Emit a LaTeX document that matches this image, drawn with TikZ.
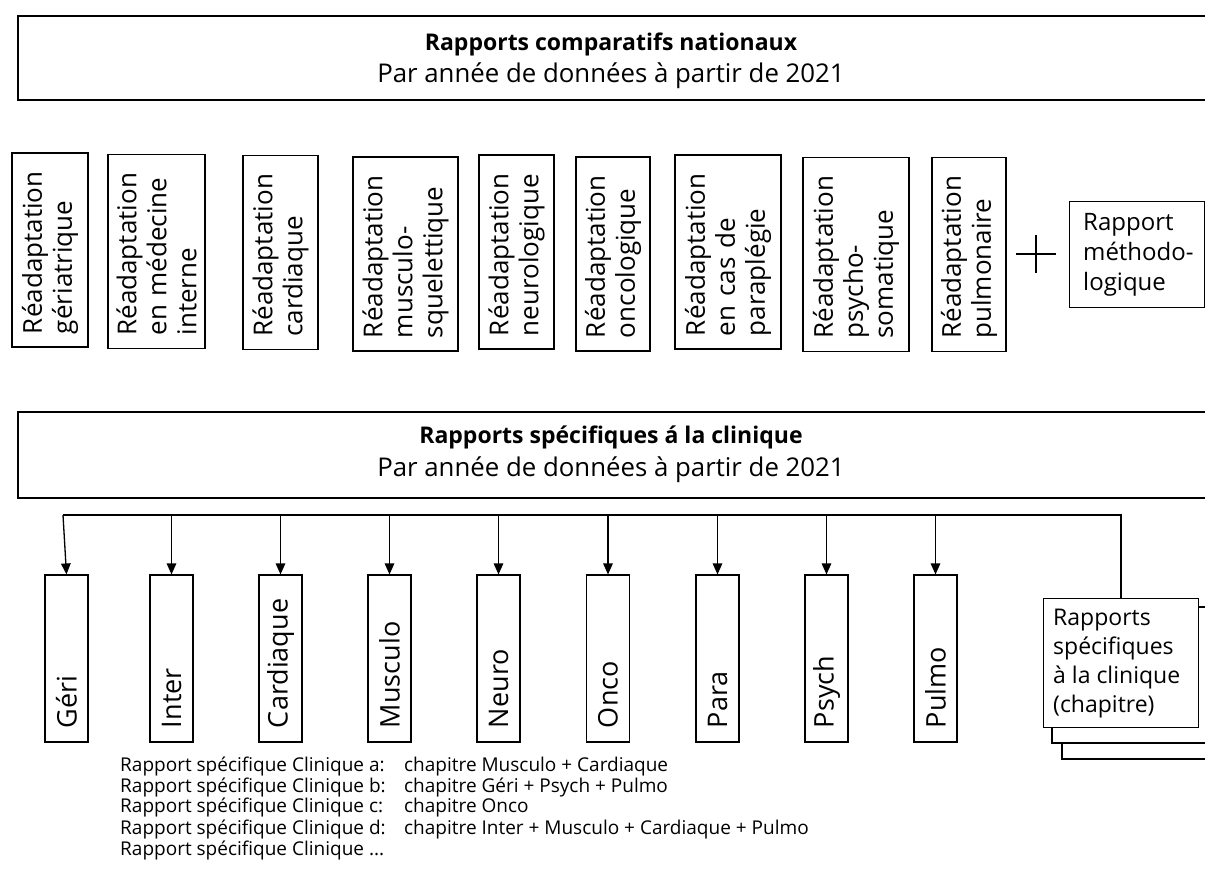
\documentclass[tikz,border=0pt]{standalone}
\usepackage{fontspec}
\setmainfont{Open Sans}
\usetikzlibrary{arrows.meta}
\tikzset{
  bigbox/.style={draw, line width=1.6pt, inner sep=0pt, anchor=north west},
  rbox/.style={draw, line width=1.1pt, rotate=90, align=left, inner xsep=13pt, inner ysep=0pt,
    text width=168pt, minimum height=#1, font=\fontsize{26}{30}\selectfont},
  cbox/.style={draw, line width=1.1pt, rotate=90, align=left, inner xsep=14pt, inner ysep=0pt,
    text width=139pt, minimum height=43pt, font=\fontsize{27}{32}\selectfont},
  titletxt/.style={inner sep=0pt, font=\bfseries\fontsize{23}{28}\selectfont},
  subtxt/.style={inner sep=0pt, font=\fontsize{25.8}{30}\selectfont},
  listtxt/.style={inner sep=0pt, anchor=base west, font=\fontsize{19}{21}\selectfont},
  conn/.style={line width=1.2pt},
  arr/.style={line width=1.3pt, -{Triangle[length=11pt,width=9.5pt]}},
}
\begin{document}
\begin{tikzpicture}[x=1pt,y=-1pt]
\clip (0,0) rectangle (1205,871);
\fill[white] (0,0) rectangle (1205,871);

% top banner
\node[bigbox, minimum width=1210pt, minimum height=84pt] (nat) at (17,15) {};
\node[titletxt] (natT) at (611,44) {Rapports comparatifs nationaux};
\node[subtxt] (natS) at (611,76) {Par année de données à partir de 2021};

% national reports
\node[rbox=76pt]  (r1) at (50,250)    {Réadaptation\\gériatrique};
\node[rbox=97pt]  (r2) at (156.5,251.5) {Réadaptation\\en médecine\\interne};
\node[rbox=75pt]  (r3) at (280.5,252.5) {Réadaptation\\cardiaque};
\node[rbox=105pt] (r4) at (405.5,254) {Réadaptation\\musculo-\\squelettique};
\node[rbox=75pt]  (r5) at (516.5,252) {Réadaptation\\neurologique};
\node[rbox=74pt]  (r6) at (613,254)   {Réadaptation\\oncologique};
\node[rbox=106pt] (r7) at (728,252)   {Réadaptation\\en cas de\\paraplégie};
\node[rbox=106pt] (r8) at (856,254.5) {Réadaptation\\psycho-\\somatique};
\node[rbox=74pt]  (r9) at (969,254.5) {Réadaptation\\pulmonaire};

\coordinate (plus) at (1036,254);
\draw[conn] ([xshift=-20pt]plus) -- ([xshift=20pt]plus) ([yshift=19pt]plus) -- ([yshift=-19pt]plus);

\node[draw, line width=1.1pt, anchor=north west, minimum width=135pt, minimum height=106pt,
  inner sep=0pt] (meth) at (1069,201) {};
\node[anchor=west, inner sep=0pt, align=left, font=\fontsize{24}{30}\selectfont]
  (methT) at ([xshift=14pt]meth.west) {Rapport\\méthodo-\\logique};

% clinic banner
\node[bigbox, minimum width=1210pt, minimum height=86pt] (cli) at (17,411) {};
\node[titletxt] (cliT) at (611,437) {Rapports spécifiques á la clinique};
\node[subtxt] (cliS) at (611,470) {Par année de données à partir de 2021};

% chapters
\node[cbox] (c1) at (66.5,658.5)  {Géri};
\node[cbox] (c2) at (171.5,658.5) {Inter};
\node[cbox] (c3) at (280.5,658.5) {Cardiaque};
\node[cbox] (c4) at (389.5,658.5) {Musculo};
\node[cbox] (c5) at (498.5,658.5) {Neuro};
\node[cbox] (c6) at (608,658.5)   {Onco};
\node[cbox] (c7) at (717.5,658.5) {Para};
\node[cbox] (c8) at (826.5,658.5) {Psych};
\node[cbox] (c9) at (935.5,658.5) {Pulmo};

% stacked clinic-specific reports
\draw[conn, fill=white] (1062,615) rectangle (1215,759);
\draw[conn, fill=white] (1052,607) rectangle (1215,743);
\node[draw, fill=white, line width=1.1pt, anchor=north west, minimum width=155pt, minimum height=129pt,
  inner sep=0pt] (stk) at (1043,598) {};
\node[anchor=west, inner sep=0pt, align=left, font=\fontsize{23}{29}\selectfont]
  (stkT) at ([xshift=10pt]stk.west) {Rapports\\spécifiques\\à la clinique\\(chapitre)};

% bus and arrows
\coordinate (busL) at (63,515);
\coordinate (busR) at (1121,515);
\draw[conn] (busL) -- (busR) -- (busR |- stk.north);
\draw[arr] (busL) -- (c1.east);
\foreach \n in {2,...,9} {
  \draw[arr] (c\n.east |- busL) -- (c\n.east);
}

% list
\node[listtxt] (la) at (120,771) {Rapport spécifique Clinique a:};
\node[listtxt] (lb) at (120,792) {Rapport spécifique Clinique b:};
\node[listtxt] (lc) at (120,812) {Rapport spécifique Clinique c:};
\node[listtxt] (ld) at (120,834) {Rapport spécifique Clinique d:};
\node[listtxt] (le) at (120,855) {Rapport spécifique Clinique ...};
\node[listtxt] (ka) at (404,771) {chapitre Musculo + Cardiaque};
\node[listtxt] (kb) at (404,792) {chapitre Géri + Psych + Pulmo};
\node[listtxt] (kc) at (404,812) {chapitre Onco};
\node[listtxt] (kd) at (404,834) {chapitre Inter + Musculo + Cardiaque + Pulmo};
\end{tikzpicture}
\end{document}
